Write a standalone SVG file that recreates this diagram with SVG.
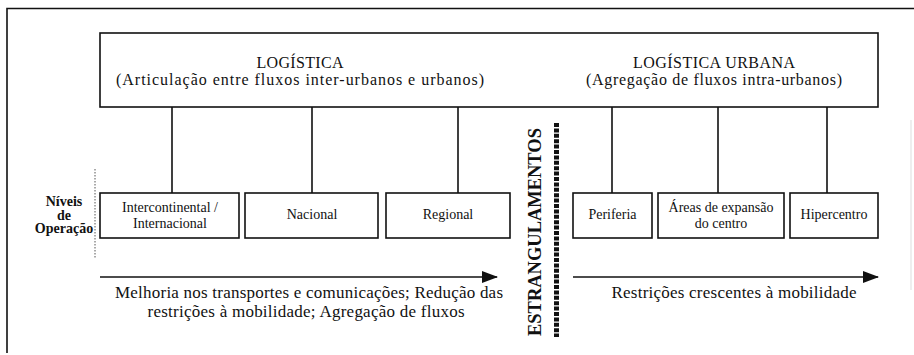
<svg xmlns="http://www.w3.org/2000/svg" width="914" height="355" viewBox="0 0 914 355">
<style>
.box{fill:#fff;stroke:#111;stroke-width:1.6}
.ln{stroke:#111;stroke-width:1.6;fill:none}
.t{font-family:"Liberation Serif","DejaVu Serif","Times New Roman",serif;fill:#111;text-anchor:middle}
.ti{font-size:17px}
.th{font-size:16px}
.bx{font-size:14px}
.bd{font-weight:bold}
</style>
<defs>
<marker id="ah" markerWidth="16" markerHeight="12" refX="15" refY="6" orient="auto" markerUnits="userSpaceOnUse">
<path d="M0,0 L16,6 L0,12 Z" fill="#111"/>
</marker>
</defs>
<rect width="914" height="355" fill="#fff"/>
<g id="frame">
<path class="ln" d="M7,353 L7,8.5 L914,8.5"/>
<path d="M911,120 L911,290" stroke="#ddd" stroke-width="1"/>
</g>
<g id="connectors">
<path class="ln" d="M172,107 V193 M312,107 V193 M458,107 V193 M612,107 V193 M718,107 V193 M827,107 V193"/>
<path class="ln" d="M100,277 H497" marker-end="url(#ah)"/>
<path class="ln" d="M573,277 H878" marker-end="url(#ah)"/>
<path d="M95,169 V259" stroke="#555" stroke-width="1" stroke-dasharray="1.5 1.5"/>
</g>
<g id="top-box">
<rect class="box" x="100" y="33" width="778" height="74"/>
<text class="t th" x="300" y="67.5" textLength="87">LOGÍSTICA</text>
<text class="t th" x="300" y="85" textLength="368">(Articulação entre fluxos inter-urbanos e urbanos)</text>
<text class="t th" x="714" y="67.5" textLength="162">LOGÍSTICA URBANA</text>
<text class="t th" x="714" y="85" textLength="256">(Agregação de fluxos intra-urbanos)</text>
</g>
<g id="niveis">
<text class="t bd" font-size="14" x="64" y="206">Níveis</text>
<text class="t bd" font-size="14" x="64" y="219.5">de</text>
<text class="t bd" font-size="14" x="64" y="233">Operação</text>
</g>
<g id="n-intercontinental">
<rect class="box" x="100" y="193" width="139" height="45"/>
<text class="t bx" x="170" y="212">Intercontinental /</text>
<text class="t bx" x="170" y="228">Internacional</text>
</g>
<g id="n-nacional">
<rect class="box" x="245" y="193" width="133" height="45"/>
<text class="t bx" x="312" y="219">Nacional</text>
</g>
<g id="n-regional">
<rect class="box" x="386" y="193" width="124" height="45"/>
<text class="t bx" x="448" y="219">Regional</text>
</g>
<g id="n-periferia">
<rect class="box" x="573" y="193" width="79" height="45"/>
<text class="t bx" x="612.5" y="219">Periferia</text>
</g>
<g id="n-areas">
<rect class="box" x="658" y="193" width="126" height="45"/>
<text class="t bx" x="721" y="212">Áreas de expansão</text>
<text class="t bx" x="721" y="228">do centro</text>
</g>
<g id="n-hipercentro">
<rect class="box" x="790" y="193" width="88" height="45"/>
<text class="t bx" x="834" y="219">Hipercentro</text>
</g>
<g id="estrangulamentos">
<text class="t bd" font-size="18" transform="translate(541,232) rotate(-90)" textLength="208" lengthAdjust="spacingAndGlyphs">ESTRANGULAMENTOS</text>
<path d="M556.5,123 V337" stroke="#111" stroke-width="5" stroke-dasharray="4 1.4"/>
</g>
<g id="labels">
<text class="t ti" x="309" y="298" textLength="388">Melhoria nos transportes e comunicações; Redução das</text>
<text class="t ti" x="306" y="317" textLength="317">restrições à mobilidade; Agregação de fluxos</text>
<text class="t ti" x="734" y="298" textLength="245">Restrições crescentes à mobilidade</text>
</g>
</svg>
